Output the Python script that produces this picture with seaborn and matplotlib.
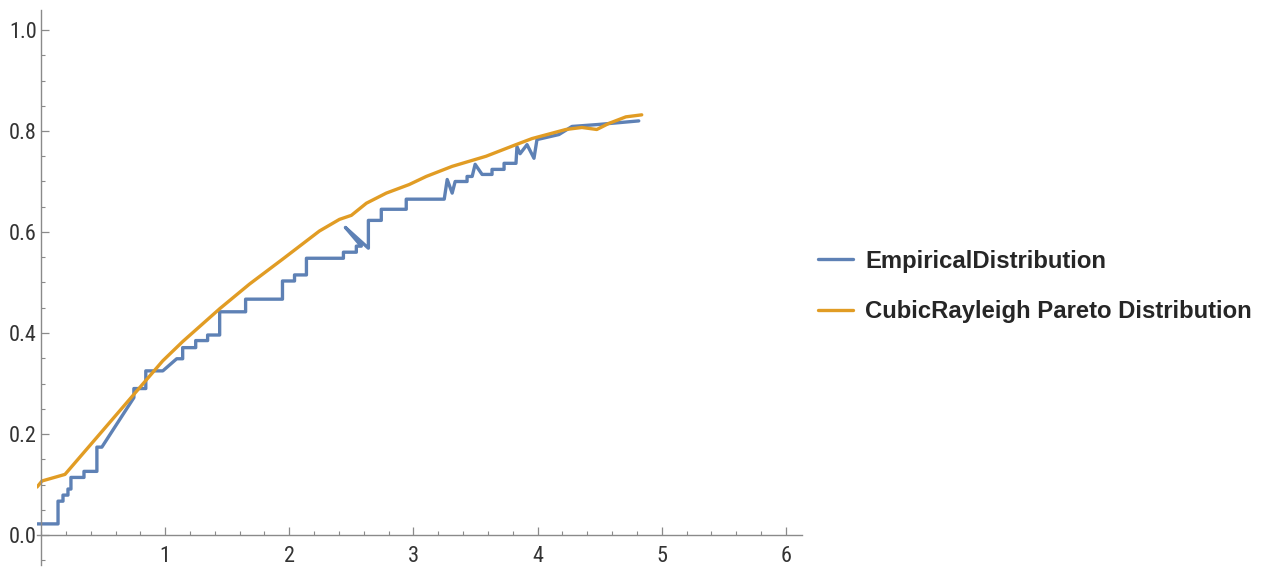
import matplotlib
matplotlib.use("Agg")
import matplotlib.pyplot as plt
import seaborn as sns
import pandas as pd
from matplotlib.ticker import MultipleLocator
from matplotlib import font_manager

# ---- data ----
empirical_x = [-0.03, 0.137, 0.137, 0.177, 0.177, 0.217, 0.217, 0.241, 0.241, 0.346, 0.346,
               0.450, 0.450, 0.490, 0.748, 0.748, 0.844, 0.844, 0.981, 1.093, 1.141, 1.141,
               1.246, 1.246, 1.342, 1.342, 1.439, 1.439, 1.648, 1.648, 1.945, 1.945, 2.042,
               2.042, 2.138, 2.138, 2.436, 2.436, 2.540, 2.540, 2.580, 2.452, 2.637, 2.637,
               2.741, 2.741, 2.942, 2.942, 3.248, 3.272, 3.312, 3.336, 3.432, 3.432, 3.473,
               3.497, 3.553, 3.633, 3.633, 3.730, 3.730, 3.826, 3.834, 3.859, 3.915, 3.971,
               3.995, 4.172, 4.277, 4.494, 4.815]
empirical_y = [0.022, 0.022, 0.067, 0.067, 0.079, 0.079, 0.091, 0.091, 0.114, 0.114, 0.126,
               0.126, 0.174, 0.174, 0.272, 0.290, 0.290, 0.325, 0.325, 0.349, 0.349, 0.371,
               0.371, 0.385, 0.385, 0.396, 0.396, 0.442, 0.442, 0.467, 0.467, 0.503, 0.503,
               0.515, 0.515, 0.548, 0.548, 0.560, 0.560, 0.572, 0.572, 0.609, 0.568, 0.623,
               0.623, 0.645, 0.645, 0.665, 0.665, 0.704, 0.677, 0.700, 0.700, 0.710, 0.710,
               0.734, 0.714, 0.714, 0.724, 0.724, 0.736, 0.736, 0.769, 0.755, 0.773, 0.746,
               0.783, 0.793, 0.809, 0.813, 0.820]

model_x = [-0.032, 0.008, 0.193, 0.981, 1.141, 1.439, 1.680, 1.945, 2.243, 2.404, 2.500,
           2.621, 2.781, 2.966, 3.103, 3.312, 3.585, 3.826, 3.955, 4.228, 4.357, 4.477,
           4.574, 4.711, 4.839]
model_y = [0.095, 0.107, 0.120, 0.345, 0.383, 0.448, 0.497, 0.546, 0.602, 0.625, 0.633,
           0.657, 0.677, 0.694, 0.710, 0.730, 0.750, 0.773, 0.785, 0.803, 0.807, 0.803,
           0.815, 0.828, 0.832]

series_labels = ["EmpiricalDistribution", "CubicRayleigh Pareto Distribution"]
series_colors = ["#5E81B5", "#E19C24"]
x_ticks = [1, 2, 3, 4, 5, 6]
y_ticks = [0.0, 0.2, 0.4, 0.6, 0.8, 1.0]

sns.set_style("white")
installed = {f.name for f in font_manager.fontManager.ttflist}
tick_family = [f for f in ["Liberation Sans Narrow", "Roboto Condensed", "Liberation Sans"]
               if f in installed] + ["DejaVu Sans"]
plt.rcParams["font.family"] = tick_family

fig = plt.figure(figsize=(12.61, 5.68), dpi=100)
W, H = 1261, 568
left_px, right_px = 37.3, 802.0
top_px, bottom_px = 9.8, 565.3
ax = fig.add_axes([left_px / W, (H - bottom_px) / H,
                   (right_px - left_px) / W, (bottom_px - top_px) / H])

emp_df = pd.DataFrame({"x": empirical_x, "y": empirical_y})
mod_df = pd.DataFrame({"x": model_x, "y": model_y})

sns.lineplot(data=emp_df, x="x", y="y", sort=False, estimator=None, ax=ax,
             color=series_colors[0], linewidth=2.4, label=series_labels[0])
sns.lineplot(data=mod_df, x="x", y="y", sort=False, estimator=None, ax=ax,
             color=series_colors[1], linewidth=2.4, label=series_labels[1])

ax.set_xlim(-0.03, 6.13)
ax.set_ylim(-0.06, 1.04)
ax.set_xlabel("")
ax.set_ylabel("")

axis_color = "#8a8a8a"
for s in ["top", "right"]:
    ax.spines[s].set_visible(False)
ax.spines["left"].set_position(("data", 0))
ax.spines["bottom"].set_position(("data", 0))
for s in ["left", "bottom"]:
    ax.spines[s].set_color(axis_color)
    ax.spines[s].set_linewidth(1.0)

ax.set_xticks(x_ticks)
ax.set_xticklabels([str(t) for t in x_ticks])
ax.set_yticks(y_ticks)
ax.set_yticklabels([f"{t:.1f}" for t in y_ticks])
ax.xaxis.set_minor_locator(MultipleLocator(0.2))
ax.yaxis.set_minor_locator(MultipleLocator(0.05))
ax.tick_params(axis="both", which="both", bottom=True, left=True, top=False, right=False)
ax.tick_params(axis="both", which="major", direction="in", length=5.8, width=0.9,
               color=axis_color, labelsize=16, labelcolor="#333333")
ax.tick_params(axis="both", which="minor", direction="in", length=2.8, width=0.8,
               color=axis_color)
ax.tick_params(axis="x", which="major", pad=8)
ax.tick_params(axis="y", which="major", pad=3)
ax.grid(False)
ax.set_facecolor("white")

ax.legend(loc="center left", bbox_to_anchor=(818 / W, (H - 286.5) / H),
          bbox_transform=fig.transFigure, frameon=False,
          prop={"family": ["Liberation Sans", "DejaVu Sans"], "weight": "bold", "size": 17.2},
          handlelength=1.45, handletextpad=0.53, labelspacing=1.15,
          borderpad=0, borderaxespad=0)

fig.savefig("out.png", dpi=100, facecolor="white")
